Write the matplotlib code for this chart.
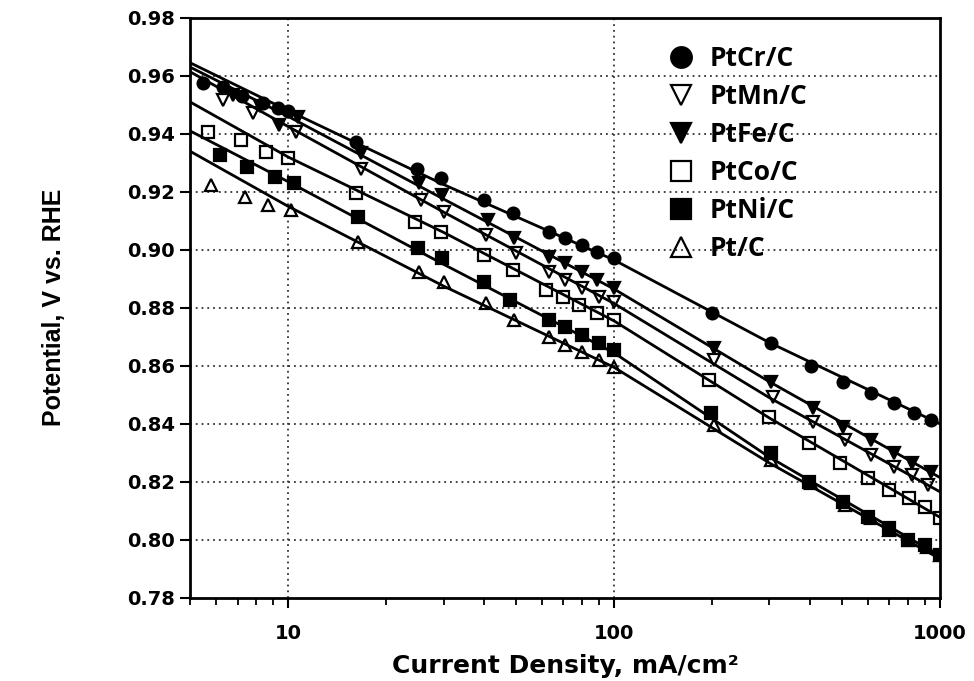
import matplotlib
matplotlib.use("Agg")
import matplotlib.pyplot as plt
from matplotlib.ticker import FixedLocator, NullFormatter, LogLocator
from matplotlib import font_manager

# ---- data ----
labels = ["PtCr/C", "PtMn/C", "PtFe/C", "PtCo/C", "PtNi/C", "Pt/C"]

ptcr_x = [5.5, 6.3, 7.2, 8.4, 9.3, 10, 16.2, 24.8, 29.4, 40, 49, 63, 70.6, 79.6, 88.7, 100,
          200, 303, 403, 506, 616, 721, 832, 937]
ptcr_y = [0.9576, 0.956, 0.953, 0.9505, 0.949, 0.948, 0.9372, 0.928, 0.9248, 0.9172, 0.9128,
          0.9062, 0.904, 0.9017, 0.8993, 0.8972, 0.8783, 0.868, 0.860, 0.8545, 0.8507, 0.8472,
          0.8438, 0.8414]

ptmn_x = [6.3, 7.8, 10.6, 16.8, 25.5, 30, 40.5, 50, 63, 70.6, 79.6, 90, 100,
          203, 307, 408, 513, 613, 721, 820, 920]
ptmn_y = [0.9517, 0.9472, 0.9407, 0.928, 0.9172, 0.913, 0.9052, 0.899, 0.8924, 0.8897, 0.8869,
          0.8838, 0.8821, 0.862, 0.8493, 0.8407, 0.8345, 0.8293, 0.8252, 0.8224, 0.819]

ptfe_x = [6.8, 8.2, 9.4, 10.7, 16.8, 25.2, 29.6, 41, 49.4, 63, 70.6, 79.6, 88.7, 100,
          203, 303, 408, 506, 613, 721, 820, 937]
ptfe_y = [0.9535, 0.9495, 0.943, 0.9459, 0.9334, 0.923, 0.919, 0.9103, 0.904, 0.8976, 0.8955,
          0.8924, 0.8897, 0.8869, 0.8662, 0.8545, 0.8455, 0.839, 0.8345, 0.83, 0.8266, 0.8234]

ptco_x = [5.67, 7.17, 8.55, 10, 16.2, 24.6, 29.4, 40, 49, 62, 70, 78, 88.7, 100,
          196, 300, 398, 495, 600, 700, 806, 900, 1000]
ptco_y = [0.9407, 0.938, 0.9338, 0.9317, 0.9197, 0.9097, 0.906, 0.8983, 0.8931, 0.8862, 0.8838,
          0.881, 0.8783, 0.8759, 0.8552, 0.8424, 0.8334, 0.8266, 0.8214, 0.8172, 0.8145, 0.8114,
          0.8076]

ptni_x = [6.17, 7.5, 9.1, 10.4, 16.4, 25.1, 29.6, 40, 48, 63, 70.6, 79.6, 90, 100,
          198, 303, 398, 506, 600, 700, 797, 900, 1000]
ptni_y = [0.9328, 0.9286, 0.9252, 0.923, 0.9114, 0.9007, 0.8972, 0.889, 0.8828, 0.8759, 0.8734,
          0.8707, 0.8679, 0.8655, 0.8438, 0.83, 0.82, 0.8131, 0.8079, 0.8041, 0.80, 0.7983, 0.7948]

pt_x = [5.8, 7.4, 8.68, 10.2, 16.4, 25.2, 30, 40.5, 49.4, 63, 70.6, 79.6, 90, 100,
        203, 303, 403, 513, 613, 700, 806, 910, 1000]
pt_y = [0.9224, 0.9183, 0.9155, 0.9138, 0.9028, 0.8924, 0.889, 0.8817, 0.8759, 0.87, 0.8672,
        0.8648, 0.8621, 0.8597, 0.8397, 0.8276, 0.8197, 0.8121, 0.8076, 0.8034, 0.80, 0.7976,
        0.7948]

# fitted (Tafel) lines, potential read at these current densities
fit_x = [5, 10, 30, 100, 300, 1000]
fit_ptcr = [0.9645, 0.948, 0.9225, 0.8965, 0.868, 0.840]
fit_ptmn = [0.9614, 0.9425, 0.913, 0.8815, 0.849, 0.8166]
fit_ptfe = [0.963, 0.946, 0.9175, 0.8865, 0.8545, 0.8215]
fit_ptco = [0.951, 0.932, 0.906, 0.8755, 0.842, 0.8078]
fit_ptni = [0.941, 0.9235, 0.895, 0.8645, 0.8285, 0.7945]
fit_pt = [0.934, 0.915, 0.8875, 0.8595, 0.8265, 0.7935]

y_ticks = [0.78, 0.80, 0.82, 0.84, 0.86, 0.88, 0.90, 0.92, 0.94, 0.96, 0.98]
x_ticks = [10, 100, 1000]

# ---- figure ----
fig = plt.figure(figsize=(9.74, 6.81), dpi=100)
ax = fig.add_axes([0.195, 0.122, 0.770, 0.852])
ax.set_xscale("log")
ax.set_xlim(5, 1000)
ax.set_ylim(0.78, 0.98)

series = [
    (ptcr_x, ptcr_y, fit_ptcr, dict(marker="o", mfc="black")),
    (ptmn_x, ptmn_y, fit_ptmn, dict(marker="v", mfc="none")),
    (ptfe_x, ptfe_y, fit_ptfe, dict(marker="v", mfc="black")),
    (ptco_x, ptco_y, fit_ptco, dict(marker="s", mfc="none")),
    (ptni_x, ptni_y, fit_ptni, dict(marker="s", mfc="black")),
    (pt_x, pt_y, fit_pt, dict(marker="^", mfc="none")),
]

for (xs, ys, fy, st), lab in zip(series, labels):
    ax.plot(fit_x, fy, color="black", lw=2.0, zorder=3)
    ax.plot(xs, ys, linestyle="none", ms=8.5, mec="black", mew=1.6,
            label=lab, zorder=4, **st)

# grid
for yv in y_ticks[1:-1]:
    ax.axhline(yv, color="#333333", lw=1.3, ls=(0, (1, 2.2)), zorder=1)
for xv in x_ticks[:-1]:
    ax.axvline(xv, color="#333333", lw=1.3, ls=(0, (1, 2.2)), zorder=1)

# ticks
ax.yaxis.set_major_locator(FixedLocator(y_ticks))
ax.set_yticklabels([f"{v:.2f}" for v in y_ticks])
ax.xaxis.set_major_locator(FixedLocator(x_ticks))
ax.set_xticklabels([str(v) for v in x_ticks])
ax.xaxis.set_minor_locator(LogLocator(base=10, subs=range(2, 10)))
ax.xaxis.set_minor_formatter(NullFormatter())
ax.tick_params(axis="y", which="major", direction="out", length=7, width=1.5,
               labelsize=14, pad=4)
ax.tick_params(axis="x", which="major", direction="out", length=7, width=1.5,
               labelsize=14, pad=12)
ax.tick_params(axis="x", which="minor", direction="out", length=5, width=1.3)
for lbl in ax.get_xticklabels() + ax.get_yticklabels():
    lbl.set_fontweight("bold")
    lbl.set_family("DejaVu Sans")

for sp in ax.spines.values():
    sp.set_linewidth(2)

names = {f.name for f in font_manager.fontManager.ttflist}
if "Liberation Sans Narrow" in names:
    ylab_family, ylab_size = "Liberation Sans Narrow", 20
else:
    ylab_family, ylab_size = "Liberation Sans", 18

ax.set_xlabel("Current Density, mA/cm²", fontsize=18, fontweight="bold",
              family="DejaVu Sans", labelpad=8)
ax.set_ylabel("Potential, V vs. RHE", fontsize=ylab_size, fontweight="bold",
              family=ylab_family, labelpad=44)

leg = ax.legend(loc="upper left", bbox_to_anchor=(0.612, 0.985), frameon=False,
                markerscale=1.75, handlelength=1.0, handletextpad=0.6,
                labelspacing=0.42, borderaxespad=0.3,
                prop=dict(family="Open Sans", weight="bold", size=19))

fig.savefig("out.png", dpi=100)
